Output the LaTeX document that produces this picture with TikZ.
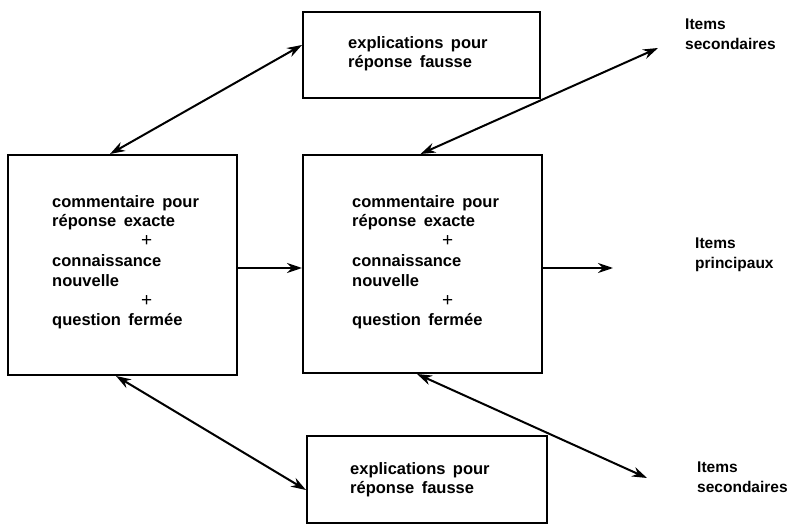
\documentclass[tikz,border=0pt]{standalone}
\usepackage{fontspec}
\setmainfont{Liberation Sans}
\usetikzlibrary{arrows.meta}
\newcommand\plusmark{{\fontsize{19}{19}\selectfont\mdseries +}}
\begin{document}
\begin{tikzpicture}[x=1pt,y=-1pt,
  box/.style={draw,line width=2pt,inner sep=0pt},
  txt/.style={font=\fontsize{16.5}{19.8}\selectfont\bfseries,execute at begin node={\spaceskip=0.45em\relax},align=left,inner sep=0pt,anchor=north west},
  lbl/.style={font=\fontsize{15.5}{20}\selectfont\bfseries,align=left,inner sep=0pt,anchor=north west},
  arr/.style={line width=2pt,-{Stealth[length=15pt,width=10pt]}},
  darr/.style={line width=2pt,{Stealth[length=15pt,width=10pt]}-{Stealth[length=15pt,width=10pt]}}]
\useasboundingbox[fill=white] (0,0) rectangle (791,526);
% boxes
\node[box,minimum width=229pt,minimum height=220pt] (L) at (122.5,265) {};
\node[box,minimum width=237pt,minimum height=86pt] (T) at (421.5,55) {};
\node[box,minimum width=239pt,minimum height=218pt] (M) at (422.5,264) {};
\node[box,minimum width=240pt,minimum height=87pt] (B) at (427,479.5) {};
% texts in boxes
\node[txt] (Ltxt) at (52,195) {commentaire pour\\réponse exacte\\\hspace*{89pt}\plusmark\\connaissance\\nouvelle\\\hspace*{89pt}\plusmark\\question fermée};
\node[txt] (Mtxt) at (352,195) {commentaire pour\\réponse exacte\\\hspace*{90pt}\plusmark\\connaissance\\nouvelle\\\hspace*{90pt}\plusmark\\question fermée};
\node[txt] (Ttxt) at (348,36) {explications pour\\réponse fausse};
\node[txt] (Btxt) at (350,462) {explications pour\\réponse fausse};
% side labels
\node[lbl] (s1) at (685,19) {Items\\secondaires};
\node[lbl] (pr) at (695,238) {Items\\principaux};
\node[lbl] (s2) at (697,462) {Items\\secondaires};
% free ends
\coordinate (p1) at (658,48);
\coordinate (p2) at (647,478);
\coordinate (p3) at (613,268);
% connectors
\draw[darr] ([xshift=-12.5pt]L.north) -- ([yshift=10pt]T.west);
\draw[darr] ([xshift=-2pt]M.north) -- (p1);
\draw[darr] ([xshift=-6.5pt]L.south) -- ([yshift=-10.5pt]B.west);
\draw[darr] ([xshift=-5.5pt]M.south) -- (p2);
\draw[arr] ([yshift=-3pt]L.east) -- ([yshift=-4pt]M.west);
\draw[arr] ([yshift=-4pt]M.east) -- (p3);
\end{tikzpicture}
\end{document}
